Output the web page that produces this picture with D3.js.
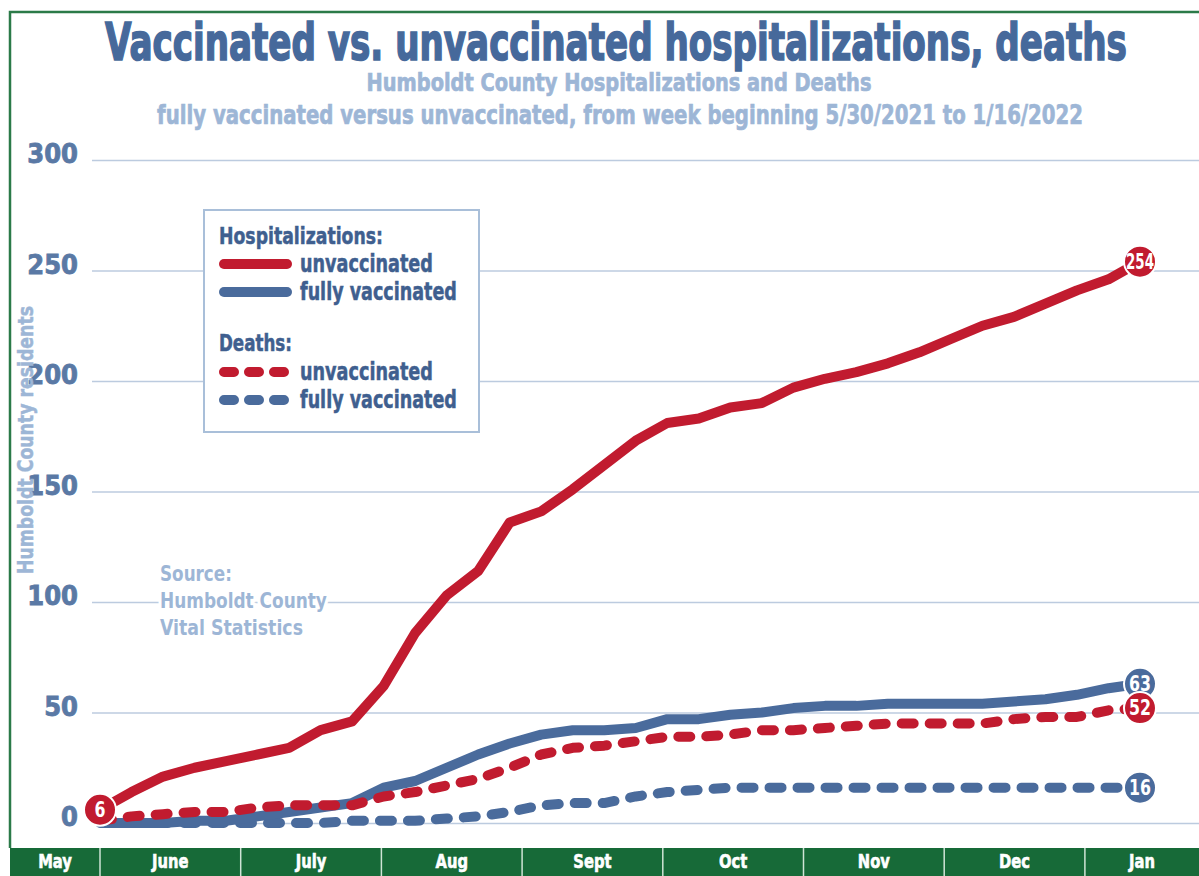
<!DOCTYPE html>
<html>
<head>
<meta charset="utf-8">
<script src="https://cdn.jsdelivr.net/npm/d3@7"></script>
<style>
  body { margin: 0; background: #fff; }
  svg { display: block; }
  text { font-family: "Liberation Sans Narrow", "DejaVu Sans Condensed", "Roboto", sans-serif; font-weight: bold; }
</style>
</head>
<body>
<script>
// weekly cumulative counts, week beginning 5/30/2021 .. 1/16/2022
var weeks = ["5/30/2021","6/6/2021","6/13/2021","6/20/2021","6/27/2021","7/4/2021","7/11/2021",
  "7/18/2021","7/25/2021","8/1/2021","8/8/2021","8/15/2021","8/22/2021","8/29/2021","9/5/2021",
  "9/12/2021","9/19/2021","9/26/2021","10/3/2021","10/10/2021","10/17/2021","10/24/2021",
  "10/31/2021","11/7/2021","11/14/2021","11/21/2021","11/28/2021","12/5/2021","12/12/2021",
  "12/19/2021","12/26/2021","1/2/2022","1/9/2022","1/16/2022"];

var hospUnvax = [6,14,21,25,28,31,34,42,46,62,86,103,114,136,141,151,162,173,181,183,
  188,190,197,201,204,208,213,219,225,229,235,241,246,254];
var hospVax = [0,0,0,1,1,3,5,7,9,16,19,25,31,36,40,42,42,43,47,47,
  49,50,52,53,53,54,54,54,54,55,56,58,61,63];
var deathsUnvax = [1,3,4,5,5,7,8,8,8,12,14,17,20,25,31,34,35,37,39,39,
  40,42,42,43,44,45,45,45,45,47,48,48,51,52];
var deathsVax = [0,0,0,0,0,0,0,0,1,1,1,2,3,5,8,9,9,12,14,15,
  16,16,16,16,16,16,16,16,16,16,16,16,16,16];

var months = ["May","June","July","Aug","Sept","Oct","Nov","Dec","Jan"];
var yTicks = [0,50,100,150,200,250,300];

var RED = "#c11b2f", BLUE = "#4a6b9c", LIGHT = "#9db6d6", DARK = "#3f5f8f";

var series = [
  {name:"fully vaccinated", values:deathsVax, color:BLUE, dashed:true},
  {name:"fully vaccinated", values:hospVax, color:BLUE, dashed:false},
  {name:"unvaccinated", values:deathsUnvax, color:RED, dashed:true},
  {name:"unvaccinated", values:hospUnvax, color:RED, dashed:false}
];

var W = 1199, H = 876;
var svg = d3.select("body").append("svg").attr("width", W).attr("height", H);

var x = d3.scaleLinear().domain([0, weeks.length - 1]).range([100, 1140]);
var y = d3.scaleLinear().domain([0, 300]).range([823, 160]);

// text squeezed horizontally to a given width (the original uses a condensed display face)
function label(parent, str, px, py, size, fill, width, anchor, rot) {
  var t = parent.append("text").attr("font-size", size).attr("fill", fill)
    .attr("text-anchor", anchor || "start").text(str);
  var n = t.node().getComputedTextLength();
  var sx = width ? (width < 2 ? width : width / n) : 1;
  t.attr("transform", "translate(" + px + "," + py + ")" + (rot ? " rotate(" + rot + ")" : "") +
    " scale(" + sx + ",1)");
  return t;
}

// green frame
svg.append("path")
  .attr("d", "M10,848 V12 H" + W)
  .attr("fill", "none").attr("stroke", "#2b7a48").attr("stroke-width", 2.5);

// titles
label(svg, "Vaccinated vs. unvaccinated hospitalizations, deaths", 616, 60, 52, "#46699b", 1022, "middle")
  .attr("stroke", "#46699b").attr("stroke-width", 1.6);
label(svg, "Humboldt County Hospitalizations and Deaths", 619, 91, 25, LIGHT, 505, "middle")
  .attr("stroke", LIGHT).attr("stroke-width", 0.7);
label(svg, "fully vaccinated versus unvaccinated, from week beginning 5/30/2021 to 1/16/2022",
  620, 124, 27, LIGHT, 926, "middle")
  .attr("stroke", LIGHT).attr("stroke-width", 0.7);

// y axis with gridlines
var yAxis = svg.append("g").attr("transform", "translate(92,0)")
  .call(d3.axisLeft(y).tickValues(yTicks).tickSize(-(W - 92)).tickPadding(14));
yAxis.select(".domain").remove();
yAxis.selectAll(".tick line").attr("stroke", "#bccbdf").attr("stroke-width", 1.5);
yAxis.selectAll(".tick text").attr("font-size", 27).attr("fill", "#5a79a5")
  .attr("stroke", "#5a79a5").attr("stroke-width", 0.8)
  .attr("font-family", null).attr("dy", "0.1em");

label(svg, "Humboldt County residents", 33, 440, 22, LIGHT, 268, "middle", -90)
  .attr("stroke", LIGHT).attr("stroke-width", 0.5);

// source note
var src = svg.append("g");
[["Source:", 72], ["Humboldt County", 167], ["Vital Statistics", 143]].forEach(function(s, i) {
  label(src, s[0], 160, 581 + i * 27, 22, LIGHT, s[1])
    .attr("stroke", "#fff").attr("stroke-width", 7).attr("paint-order", "stroke")
    .attr("stroke-linejoin", "round");
});

// legend
var lg = svg.append("g");
lg.append("rect").attr("x", 204).attr("y", 210).attr("width", 275).attr("height", 222)
  .attr("fill", "#fff").attr("stroke", "#a9bfd9").attr("stroke-width", 2);
var legendRows = [
  {head:"Hospitalizations:", w:164, y:236},
  {s:series[3], w:133, y:264},
  {s:series[1], w:157, y:292},
  {head:"Deaths:", w:73, y:343},
  {s:series[2], w:133, y:372},
  {s:series[0], w:157, y:400}
];
legendRows.forEach(function(r) {
  if (r.head) {
    label(lg, r.head, 219, r.y + 8, 23, DARK, r.w).attr("stroke", DARK).attr("stroke-width", 0.5);
  } else {
    lg.append("line").attr("x1", 224).attr("x2", 287).attr("y1", r.y).attr("y2", r.y)
      .attr("stroke", r.s.color).attr("stroke-width", 10).attr("stroke-linecap", "round")
      .attr("stroke-dasharray", r.s.dashed ? "10,15" : null);
    label(lg, r.s.name, 300, r.y + 8, 24, DARK, r.w).attr("stroke", DARK).attr("stroke-width", 0.5);
  }
});

// lines
var line = d3.line().x(function(d, i) { return x(i); }).y(function(d) { return y(d); });
svg.append("g").selectAll("path").data(series).enter().append("path")
  .attr("d", function(d) { return line(d.values); })
  .attr("fill", "none")
  .attr("stroke", function(d) { return d.color; })
  .attr("stroke-width", 10)
  .attr("stroke-linejoin", "round")
  .attr("stroke-linecap", function(d) { return d.dashed ? "round" : "butt"; })
  .attr("stroke-dasharray", function(d) { return d.dashed ? "12,16" : null; });

// value badges
var last = weeks.length - 1;
var badges = [
  {i:0, v:hospUnvax[0], color:RED},
  {i:last, v:deathsVax[last], color:BLUE},
  {i:last, v:hospVax[last], color:BLUE},
  {i:last, v:deathsUnvax[last], color:RED},
  {i:last, v:hospUnvax[last], color:RED}
];
var bg = svg.append("g").selectAll("g").data(badges).enter().append("g")
  .attr("transform", function(d) { return "translate(" + x(d.i) + "," + y(d.v) + ")"; });
bg.append("circle").attr("r", 16).attr("fill", function(d) { return d.color; })
  .attr("stroke", "#fff").attr("stroke-width", 2);
bg.each(function(d) {
  var s = String(d.v);
  label(d3.select(this), s, 0, 7, 21, "#fff", s.length > 2 ? 28 : s.length * 11, "middle");
});

// month strip
var band = d3.scaleBand().domain(months).range([100 - 140.7, 100 + 8 * 140.7]);
var strip = svg.append("g");
strip.append("rect").attr("x", 10).attr("y", 848).attr("width", W - 10).attr("height", H - 848)
  .attr("fill", "#176a38");
strip.selectAll("line").data(months.slice(1)).enter().append("line")
  .attr("x1", function(d) { return band(d); }).attr("x2", function(d) { return band(d); })
  .attr("y1", 848).attr("y2", H).attr("stroke", "#cfe4d6").attr("stroke-width", 1.5);
months.forEach(function(m) {
  var a = Math.max(band(m), 10), b = Math.min(band(m) + band.bandwidth(), W);
  label(strip, m, (a + b) / 2, 868, 20, "#fff", 0.82, "middle")
    .attr("stroke", "#fff").attr("stroke-width", 0.6);
});
</script>
</body>
</html>
